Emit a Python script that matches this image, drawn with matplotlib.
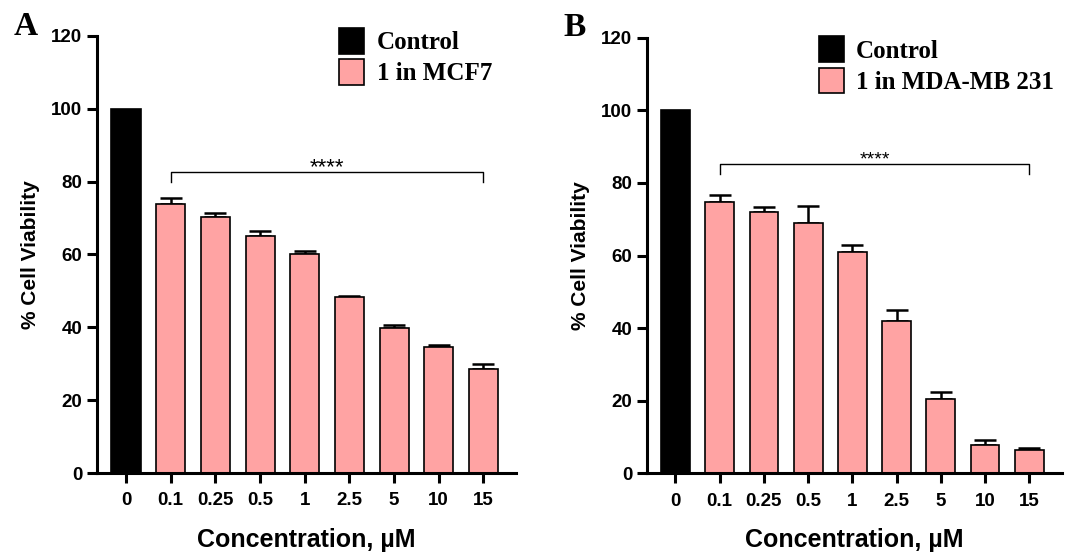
import matplotlib
matplotlib.use("Agg")
import matplotlib.pyplot as plt
import numpy as np

conc = ["0", "0.1", "0.25", "0.5", "1", "2.5", "5", "10", "15"]

# panel A - MCF7
mcf7_mean = [100, 74.0, 70.3, 65.1, 60.1, 48.3, 39.7, 34.5, 28.5]
mcf7_err = [0, 1.5, 1.1, 1.4, 0.9, 0.3, 0.9, 0.7, 1.4]

# panel B - MDA-MB 231
mda_mean = [100, 74.8, 71.9, 68.9, 61.1, 42.0, 20.5, 7.8, 6.3]
mda_err = [0, 2.0, 1.6, 4.7, 1.8, 3.0, 1.9, 1.4, 0.8]

pink = "#FFA3A3"
sans = "Liberation Sans"
serif = "Liberation Serif"


def panel(ax, mean, err, label, letter, bracket_y, star_size, leg_pos, letter_y):
    x = np.arange(len(conc))
    colors = ["black"] + [pink] * (len(conc) - 1)
    ax.errorbar(x[1:], mean[1:], yerr=[np.zeros(len(x) - 1), err[1:]],
                fmt="none", ecolor="black", elinewidth=1.8, capsize=8,
                capthick=1.8, zorder=1)
    bars = ax.bar(x, mean, width=0.65, color=colors, edgecolor="black",
                  linewidth=1.2, zorder=2)
    ax.set_xlim(-0.65, 8.73)
    ax.set_ylim(0, 120)
    ax.set_yticks(range(0, 121, 20))
    ax.set_xticks(x)
    ax.set_xticklabels(conc)
    for s in ["top", "right"]:
        ax.spines[s].set_visible(False)
    for s in ["left", "bottom"]:
        ax.spines[s].set_linewidth(2.2)
    ax.tick_params(axis="both", width=2.2, length=7, labelsize=13.5)
    ax.tick_params(axis="x", pad=7)
    for t in ax.get_xticklabels() + ax.get_yticklabels():
        t.set_fontfamily(sans)
        t.set_fontweight("bold")
    ax.set_xlabel("Concentration, µM", fontsize=18, fontweight="bold",
                  fontfamily=sans, labelpad=13)
    ax.set_ylabel("% Cell Viability", fontsize=15, fontweight="bold",
                  fontfamily=sans, labelpad=8)

    # significance bracket 0.1 -> 15
    ax.plot([1, 1, 8, 8], [bracket_y - 2.8, bracket_y, bracket_y, bracket_y - 2.8],
            color="black", linewidth=1.0)
    ax.text(4.5, bracket_y - 0.3, "****", ha="center", va="baseline",
            fontsize=star_size, fontfamily=sans)

    ax.legend([bars[0], bars[1]], ["Control", label],
              loc="upper left", bbox_to_anchor=leg_pos,
              frameon=False, handlelength=1.0, handleheight=1.2,
              handletextpad=0.5, labelspacing=0.2,
              prop={"family": serif, "weight": "bold", "size": 18})
    ax.text(-0.2, letter_y, letter, transform=ax.transAxes, fontsize=24,
            fontweight="bold", fontfamily=serif, ha="left", va="center")


fig = plt.figure(figsize=(10.69, 5.52), dpi=100)
axA = fig.add_axes([0.0907, 0.1431, 0.392, 0.7917])
axB = fig.add_axes([0.605, 0.1426, 0.388, 0.789])

panel(axA, mcf7_mean, mcf7_err, "1 in MCF7", "A", 82.7, 16, (0.525, 1.07), 1.022)
panel(axB, mda_mean, mda_err, "1 in MDA-MB 231", "B", 85.3, 14, (0.36, 1.055), 1.024)

fig.savefig("out.png", dpi=100)
